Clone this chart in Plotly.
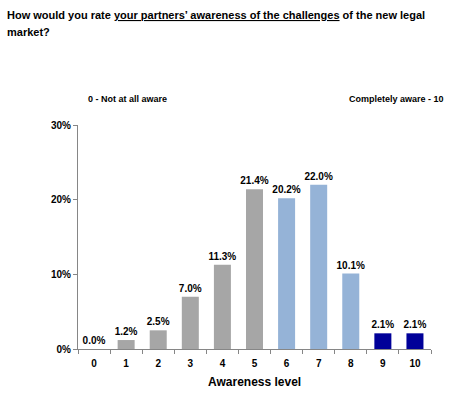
import plotly.graph_objects as go

levels = ["0", "1", "2", "3", "4", "5", "6", "7", "8", "9", "10"]
values = [0.0, 1.2, 2.5, 7.0, 11.3, 21.4, 20.2, 22.0, 10.1, 2.1, 2.1]
bar_colors = ["#A6A6A6"] * 6 + ["#95B3D7"] * 3 + ["#000099"] * 2
y_ticks = [0, 10, 20, 30]
y_tick_labels = ["0%", "10%", "20%", "30%"]

FONT = "Liberation Sans, Arial, sans-serif"

fig = go.Figure(
    go.Bar(
        x=levels,
        y=values,
        marker=dict(color=bar_colors, line=dict(width=0)),
        text=[f"<b>{v:.1f}%</b>" for v in values],
        textposition="outside",
        constraintext="none",
        cliponaxis=False,
        textfont=dict(family=FONT, size=10, color="#000000"),
        width=0.53,
    )
)

fig.update_layout(
    width=466,
    height=395,
    paper_bgcolor="white",
    plot_bgcolor="white",
    margin=dict(l=78, r=35, t=125, b=46),
    showlegend=False,
    font=dict(family=FONT, color="#000000"),
    xaxis=dict(
        type="category",
        automargin=False,
        showline=True,
        linecolor="#868686",
        linewidth=1,
        ticks="outside",
        ticklen=4,
        tickcolor="#868686",
        tickson="boundaries",
        ticklabelstandoff=5,
        showgrid=False,
        tickfont=dict(family=FONT, size=10, color="#000000"),
        tickprefix="<b>",
        ticksuffix="</b>",
    ),
    yaxis=dict(
        range=[0, 30],
        automargin=False,
        tickvals=y_ticks,
        ticktext=[f"<b>{t}</b>" for t in y_tick_labels],
        showline=True,
        linecolor="#868686",
        linewidth=1,
        ticks="outside",
        ticklen=4,
        tickcolor="#868686",
        showgrid=False,
        zeroline=False,
        tickfont=dict(family=FONT, size=10, color="#000000"),
    ),
    annotations=[
        dict(
            text="<b>How would you rate <u>your partners’ awareness of the challenges</u> of the new legal</b>",
            xref="paper", yref="paper",
            x=(5 - 78) / 353, y=(349 - 15) / 224,
            xanchor="left", yanchor="middle",
            showarrow=False,
            font=dict(family=FONT, size=11, color="#000000"),
        ),
        dict(
            text="<b>market?</b>",
            xref="paper", yref="paper",
            x=(5 - 78) / 353, y=(349 - 32) / 224,
            xanchor="left", yanchor="middle",
            showarrow=False,
            font=dict(family=FONT, size=11, color="#000000"),
        ),
        dict(
            text="<b>0 - Not at all aware</b>",
            xref="paper", yref="paper",
            x=0.139, y=1.116,
            xanchor="center", yanchor="middle",
            showarrow=False,
            font=dict(family=FONT, size=9, color="#000000"),
        ),
        dict(
            text="<b>Completely aware - 10</b>",
            xref="paper", yref="paper",
            x=0.901, y=1.116,
            xanchor="center", yanchor="middle",
            showarrow=False,
            font=dict(family=FONT, size=9, color="#000000"),
        ),
        dict(
            text="<b>Awareness level</b>",
            xref="paper", yref="paper",
            x=(254 - 78) / 353, y=(349 - 382) / 224,
            xanchor="center", yanchor="middle",
            showarrow=False,
            font=dict(family=FONT, size=12, color="#000000"),
        ),
    ],
)

fig.write_html(
    "out.html",
    config={"displayModeBar": False},
    post_script="document.body.style.margin='0';",
)
